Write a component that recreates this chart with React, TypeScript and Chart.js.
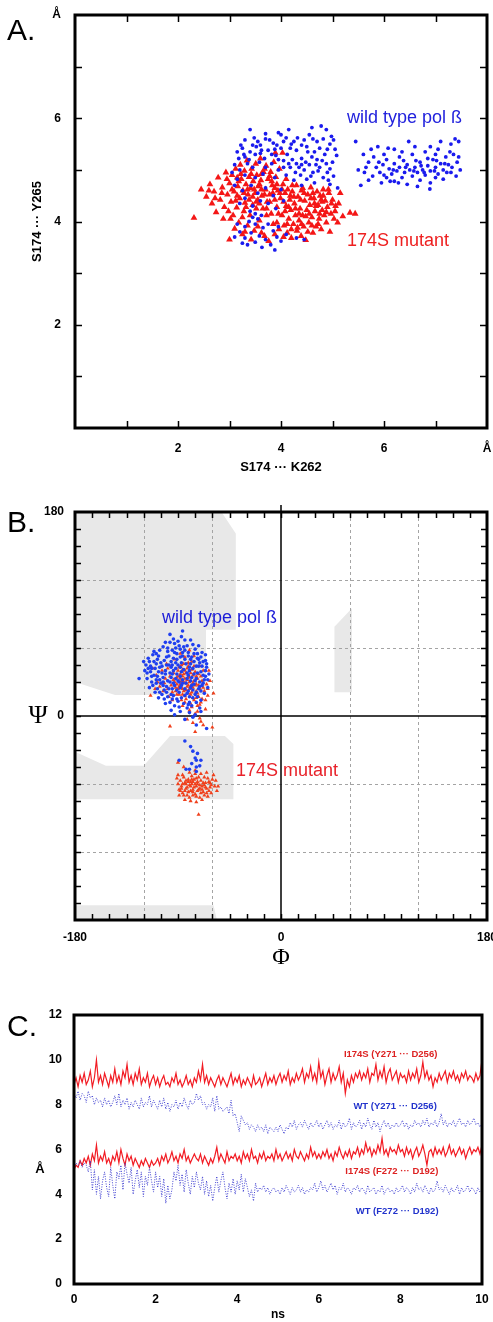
import React, { useEffect, useRef } from "react";
import { Chart, registerables } from "chart.js";
Chart.register(...registerables);

const SANS = '"Liberation Sans", Arial, Helvetica, sans-serif';
const SERIF = '"Liberation Serif", "DejaVu Serif", serif';

// ---------------- Panel A ----------------
const A_X_TICK_LABELS: Record<string, string> = { "2": "2", "4": "4", "6": "6", "8": "Å" };
const A_Y_TICK_LABELS: Record<string, string> = { "2": "2", "4": "4", "6": "6", "8": "Å" };
const A_X_TITLE = "S174 ··· K262";
const A_Y_TITLE = "S174 ··· Y265";
const A_WT_LABEL = "wild type pol ß";
const A_MUT_LABEL = "174S mutant";

// wild type: [x, y, x, y, ...]
const A_WT_XY = [
  3.4,5.78, 3.7,5.7, 3.95,5.72, 4.1,5.62, 3.55,5.55, 3.25,5.42, 3.6,5.48, 3.85,5.52, 4.2,5.5, 4.45,5.58,
  4.6,5.82, 4.78,5.85, 4.88,5.78, 4.5,5.45, 4.65,5.35, 4.95,5.5, 5.05,5.4, 4.3,5.38, 3.15,5.35, 3.4,5.35,
  3.75,5.38, 4.0,5.42, 3.3,5.25, 3.5,5.3, 3.68,5.22, 3.9,5.28, 4.12,5.3, 4.4,5.22, 4.7,5.2, 4.85,5.3, 5.0,5.15,
  3.1,5.1, 3.2,5.0, 3.35,5.12, 3.45,5.05, 3.58,5.15, 3.7,5.05, 3.82,5.12, 3.95,5.0, 4.05,5.18, 4.18,5.05,
  4.3,5.12, 4.45,5.0, 4.55,5.1, 4.62,4.95, 4.75,5.05, 4.9,4.95, 5.02,4.88, 4.82,4.85, 4.5,4.82, 4.38,4.9,
  4.25,4.8, 4.1,4.9, 3.88,4.85, 3.65,4.92, 3.5,4.85, 3.3,4.9, 3.15,4.82, 3.05,4.95, 4.65,4.75, 4.95,4.72,
  5.1,4.65, 4.4,4.7, 3.1,4.7, 3.25,4.6, 3.42,4.7, 3.55,4.55, 3.7,4.65, 3.85,4.5, 4.0,4.62, 3.3,4.45,
  3.6,4.4, 3.45,4.3, 3.75,4.35, 3.9,4.25, 3.2,4.35, 4.05,4.4, 3.4,4.2, 3.5,4.15, 3.45,4.08, 3.55,4.05,
  3.38,4.0, 3.62,4.12, 3.5,3.95, 3.3,3.9, 3.65,3.88, 3.75,3.95, 3.85,3.82, 3.2,3.8, 3.42,3.78, 3.58,3.72,
  3.7,3.65, 3.92,3.7, 4.0,3.62, 3.8,3.55, 3.63,3.5, 3.88,3.45, 3.5,3.6, 3.3,3.68, 3.1,3.7, 3.25,3.58,
  4.1,3.75, 4.3,3.68, 4.45,3.65, 3.95,3.9, 3.15,3.95, 3.35,3.55,
  3.22,5.48, 3.48,5.62, 3.62,5.38, 3.78,5.58, 3.92,5.48, 4.05,5.55, 4.18,5.42, 4.32,5.62, 4.55,5.68, 4.7,5.55,
  4.82,5.6, 4.98,5.65, 5.08,5.28, 4.6,5.25, 4.35,5.05, 4.22,5.2, 4.48,5.15, 4.72,4.98, 4.88,5.12, 3.18,5.22,
  3.38,5.2, 3.82,5.3, 4.05,5.05, 4.28,4.95, 4.58,4.88, 4.92,4.8,
  3.3,5.58, 3.52,5.45, 3.7,5.6, 3.88,5.4, 4.0,5.68, 4.15,5.78, 4.25,5.55, 4.4,5.48, 4.52,5.35, 4.62,5.6,
  4.75,5.42, 4.9,5.4, 5.02,5.58, 4.68,5.1, 4.8,5.18, 4.95,5.02, 4.4,5.1, 4.15,5.12, 3.95,5.2, 3.6,5.32,
  3.45,5.48, 3.28,5.3,
  5.45,5.55, 5.6,5.3, 5.5,5.0, 5.62,4.95, 5.7,5.15, 5.78,4.88, 5.85,5.05, 5.92,4.95, 5.98,5.1, 6.05,4.85,
  6.1,5.02, 6.15,4.92, 6.2,5.12, 6.25,4.98, 6.3,5.05, 6.35,4.85, 6.4,4.95, 6.45,5.1, 6.5,5.0, 6.55,4.88,
  6.6,5.05, 6.65,4.95, 6.7,5.15, 6.75,5.0, 6.8,4.9, 6.85,5.08, 6.9,4.98, 6.95,5.2, 7.0,5.05, 7.05,4.92,
  7.1,5.12, 7.15,5.0, 7.2,5.25, 7.25,5.1, 7.3,4.95, 7.35,5.3, 7.42,5.15, 7.48,5.0, 5.8,5.25, 6.0,5.3,
  6.3,5.25, 6.55,5.3, 6.8,5.35, 7.05,5.4, 7.3,5.5, 7.45,5.55, 7.1,5.55, 6.9,5.45, 6.6,5.45, 6.2,5.4,
  5.95,4.75, 6.2,4.78, 6.45,4.72, 6.7,4.8, 6.9,4.75, 7.15,4.82, 6.89,4.63, 6.0,4.9, 6.12,4.78, 6.58,4.98,
  6.72,5.08, 7.22,4.95, 7.4,4.88, 5.7,4.8, 6.38,5.18, 6.85,5.22, 7.0,5.3, 7.28,5.35, 6.28,4.75, 6.65,4.68,
  5.55,4.7, 5.88,5.45, 6.48,5.55, 7.38,5.6, 7.0,4.85,
  5.65,5.05, 5.9,5.15, 6.05,5.2, 6.18,5.0, 6.42,5.05, 6.62,5.18, 6.78,4.95, 7.02,5.18, 7.18,5.12, 7.32,5.05,
  6.35,5.35, 6.98,4.98, 7.45,5.25, 6.08,5.42, 5.75,5.4,
];

// 174S mutant: [x, y, ...]
const A_MUT_XY = [
  2.31,4.07, 2.45,4.62, 2.55,4.48, 2.62,4.72, 2.66,4.35, 2.7,4.58, 2.74,4.18, 2.78,4.85, 2.82,4.42, 2.86,4.66,
  2.88,4.05, 2.9,4.28, 2.93,4.95, 2.96,4.52,
  3.0,3.65, 3.0,4.74, 3.03,4.38, 3.05,4.9, 3.07,4.12, 3.09,4.58, 3.1,3.86, 3.12,5.02, 3.14,4.27, 3.16,4.68,
  3.18,3.98, 3.2,4.45, 3.21,5.1, 3.23,4.82, 3.25,3.75, 3.26,4.6, 3.28,4.2, 3.29,4.98, 3.3,4.36, 3.32,4.72,
  3.34,5.18, 3.35,3.92, 3.36,4.52, 3.38,4.86, 3.4,4.12, 3.41,4.65, 3.43,5.02, 3.45,4.32, 3.46,4.78, 3.48,3.82,
  3.5,4.55, 3.51,5.12, 3.53,4.9, 3.55,4.42, 3.56,4.68, 3.58,4.02, 3.6,5.22, 3.61,4.8, 3.63,4.5, 3.65,4.25, 3.66,4.96,
  3.68,3.72, 3.7,4.62, 3.71,5.08, 3.73,4.38, 3.75,4.82, 3.76,3.62, 3.78,4.52, 3.8,4.96, 3.81,4.15, 3.83,4.7,
  3.85,3.95, 3.86,5.15, 3.88,4.42, 3.89,5.33, 3.9,4.86, 3.92,4.28, 3.94,4.6, 3.96,3.85, 3.97,5.02, 3.99,4.45,
  4.02,4.12, 4.03,5.33, 4.04,4.72, 4.06,3.92, 4.08,4.55, 4.1,4.3, 4.12,3.78, 4.13,4.62, 4.15,4.05, 4.17,4.42,
  4.19,4.22, 4.2,3.68, 4.22,4.58, 4.24,3.95, 4.26,4.35, 4.28,4.12, 4.3,4.7, 4.31,3.82, 4.33,4.48, 4.35,4.02,
  4.37,4.25, 4.39,3.72, 4.4,4.6, 4.42,4.12, 4.44,3.9, 4.46,4.4, 4.48,3.64, 4.5,4.22, 4.52,4.52, 4.54,3.98,
  4.56,4.32, 4.58,4.66, 4.6,4.08, 4.62,3.78, 4.64,4.45, 4.66,4.2, 4.68,3.9, 4.7,4.58,
  4.72,4.32, 4.74,4.05, 4.76,4.5, 4.78,3.85, 4.8,4.22, 4.82,4.62, 4.84,4.12, 4.86,4.4, 4.88,3.98, 4.9,4.28,
  4.93,4.55, 4.95,3.8, 4.97,4.15, 5.0,4.42, 5.03,4.05, 5.06,4.3, 5.1,3.98, 5.15,4.55, 5.2,4.1, 5.34,4.17, 5.44,4.15,
  3.15,4.5, 3.35,4.62, 3.52,4.25, 3.62,4.62, 3.72,4.25, 3.84,4.55, 3.95,4.15, 4.05,4.38, 4.15,4.28, 4.25,4.48,
  4.35,4.15, 4.45,4.55, 4.55,4.15, 4.65,4.35, 4.75,4.15, 3.25,4.08, 3.45,4.48, 3.58,4.72, 3.78,4.88, 3.92,4.72,
  4.1,4.82, 4.2,3.85, 4.4,3.95, 4.6,3.92, 4.8,4.38, 3.42,3.65, 3.15,4.85, 2.98,4.2, 3.68,5.02, 3.55,3.9,
  3.05,4.62, 3.18,4.78, 3.28,4.55, 3.38,4.42, 3.48,4.62, 3.58,4.35, 3.68,4.52, 3.78,4.38, 3.88,4.65, 3.98,4.55,
  4.08,4.2, 4.18,4.5, 4.28,4.25, 4.38,4.42, 4.48,4.1, 4.58,4.45, 4.68,4.3, 4.78,4.42, 4.88,4.18, 4.98,4.35,
  3.22,4.92, 3.42,4.92, 3.62,4.92, 3.82,4.78, 4.02,4.62, 4.22,4.7, 4.42,4.65, 4.62,4.55, 4.82,4.5, 3.12,4.4,
  3.32,4.28, 3.52,4.38, 3.72,4.12, 3.92,3.98, 4.12,3.95, 4.32,3.88, 4.52,3.8, 4.72,3.95, 2.85,4.55, 2.95,4.82,
  3.02,4.05, 3.3,3.8, 3.62,3.78, 3.88,3.75, 4.05,3.7, 5.05,4.2, 5.12,4.35, 4.92,4.62, 2.72,4.45, 2.6,4.6,
];

// ---------------- Panel B ----------------
const B_X_TICK_LABELS: Record<string, string> = { "-180": "-180", "0": "0", "180": "180" };
const B_Y_TICK_LABELS: Record<string, string> = { "180": "180", "0": "0" };
const B_X_TITLE = "Φ";
const B_Y_TITLE = "Ψ";
const B_GRID_VALUES = [-120, -60, 60, 120];
// allowed Ramachandran regions, [phi, psi, ...]
const B_REGIONS = [
  [-180,180, -52,180, -39.5,161, -39.5,76, -65.5,76, -65.5,18.5, -145,18.5, -180,30],
  [-180,-31.5, -153,-44, -120,-44, -97,-17.7, -49,-17.7, -41.6,-24.7, -41.6,-73.5, -180,-73.5],
  [-180,-180, -180,-167, -59,-167, -56,-180],
  [46.7,20.9, 46.7,78.8, 62,95, 62,20.9],
];
// wild type (phi, psi)
const B_WT = [
  -124,33, -97,72, -86,75, -79,67, -93,64, -103,61, -111,57, -85,61, -75,59, -69,56,
  -116,51, -107,53, -99,57, -91,55, -81,53, -73,51, -66,49, -118,45, -109,46, -102,49,
  -96,48, -87,47, -79,46, -71,47, -65,43, -114,39, -106,43, -101,40, -92,42, -85,41,
  -77,42, -70,39, -63,37, -117,33, -108,35, -103,34, -95,37, -88,35, -81,36, -74,33,
  -67,32, -112,27, -105,29, -97,30, -90,31, -83,29, -76,28, -69,27, -64,25, -110,21,
  -102,23, -95,24, -88,25, -81,22, -74,21, -67,20, -107,16, -99,17, -91,15, -84,18,
  -77,16, -70,14, -101,11, -93,9, -85,11, -78,9, -71,7, -96,5, -88,4, -80,3,
  -75,1, -77,-1, -65,-11, -74,-8, -113,42, -108,50, -100,45, -94,51, -88,52, -80,43,
  -72,50, -68,36, -111,36, -104,38, -96,43, -90,45, -82,38, -76,37, -69,44, -113,30,
  -106,32, -99,31, -92,33, -86,32, -79,31, -71,30, -108,24, -100,26, -93,27, -87,27,
  -79,25, -72,24, -104,19, -96,19, -89,21, -82,20, -75,19, -95,58, -88,59, -81,56,
  -106,58, -112,54, -84,67, -94,68, -101,65, -77,63, -72,62, -66,54, -119,40, -120,48,
  -90,13, -82,7, -70,4, -84,-3, -93,1, -115,48, -98,53, -84,50, -73,55, -117,38,
  -109,29, -91,37, -78,34, -66,40, -104,44, -97,38, -110,42, -89,62, -76,48, -95,15,
  -64,32, -86,56, -68,48, -103,27, -80,12, -115,25, -87,70, -92,47, -100,21, -74,44,
  -105,47, -98,45, -91,50, -83,46, -76,55, -70,52, -113,35, -101,37, -94,40, -87,39,
  -80,40, -73,38, -66,35, -109,32, -96,34, -89,30, -82,33, -75,31, -68,29, -103,30,
  -94,29, -86,29, -78,27, -71,26, -106,21, -98,24, -91,23, -84,24, -77,23, -70,22,
  -102,15, -94,18, -87,16, -80,17, -73,17, -97,12, -89,8, -81,10, -74,12, -99,60,
  -92,60, -84,58, -78,52, -109,55, -114,44, -107,39, -100,52, -93,56, -86,53, -79,50,
  -72,44, -65,46, -116,42, -111,48, -97,65, -90,66, -82,62, -88,43, -95,45,
  -84,-22, -77,-31, -73,-33, -75,-37, -74,-39, -70,-39, -78,-42, -83,-47, -80,-47, -74,-49,
  -74,-45, -89,-39, -79,-27, -71,-44,
];
// 174S mutant (phi, psi)
const B_MUT = [
  -112,42, -108,30, -103,22, -100,46, -97,35, -95,14, -93,50, -91,28, -90,40, -89,19,
  -88,33, -87,45, -86,24, -85,37, -84,12, -83,29, -82,42, -81,20, -80,34, -79,26,
  -78,48, -77,16, -76,31, -75,39, -74,22, -73,9, -72,27, -71,44, -70,35, -69,15,
  -68,25, -66,6, -64,18, -62,31, -92,22, -94,38, -96,27, -98,17, -101,33, -104,40,
  -106,26, -88,55, -84,52, -80,58, -76,53, -86,9, -80,5, -75,2, -71,-2, -77,-6,
  -82,-3, -97,-9, -60,-10, -75,-14, -68,-8, -87,14, -83,23, -79,38, -85,30, -81,27,
  -77,36, -89,26, -91,34, -86,41, -82,32, -78,21, -74,28, -72,17, -84,18, -88,37,
  -93,30, -79,11, -85,46, -90,24, -76,44, -73,33, -70,12, -67,22, -81,47, -99,42,
  -95,21, -102,29, -63,40, -59,20, -65,28, -109,36, -110,24, -114,18,
  -86,35, -83,38, -80,30, -77,25, -74,35, -71,24, -88,28, -85,22, -82,26, -79,19,
  -76,14, -73,20, -90,35, -87,31, -84,40, -81,44, -78,41, -75,27, -72,37, -69,31,
  -92,25, -89,43, -86,19, -83,15, -80,24, -77,29, -74,16, -71,10, -94,32, -91,19,
  -78,8, -73,4, -70,-5, -66,14, -64,24, -68,40, -96,44, -99,24, -84,33, -81,35,
  -91,-55, -90,-60, -89,-65, -88,-57, -87,-62, -86,-68, -85,-54, -84,-59, -83,-64, -82,-70,
  -81,-56, -80,-61, -79,-66, -78,-53, -77,-58, -76,-63, -75,-69, -74,-55, -73,-60, -72,-65,
  -71,-72, -70,-57, -69,-62, -68,-67, -67,-54, -66,-59, -65,-64, -64,-71, -63,-58, -62,-63,
  -61,-68, -60,-56, -58,-62, -56,-66, -59,-52, -72,-87, -84,-74, -79,-75, -74,-76, -69,-74,
  -89,-70, -86,-52, -80,-50, -75,-51, -70,-51, -65,-50, -82,-63, -78,-60, -73,-66, -77,-70,
  -81,-67, -76,-56, -71,-61, -79,-58, -84,-66, -74,-62, -70,-68, -66,-63, -63,-66, -86,-60,
  -83,-57, -68,-59, -88,-66, -72,-54, -61,-61, -57,-57, -77,-65, -80,-72, -67,-70, -90,-52,
  -55,-62, -64,-55, -75,-48, -85,-45, -90,-41,
  -83,-60, -79,-62, -75,-60, -71,-64, -67,-61, -81,-58, -77,-67, -73,-58, -69,-65, -87,-64,
  -85,-70, -65,-68, -62,-59, -78,-56, -74,-71,
];
const B_WT_LABEL = "wild type pol ß";
const B_MUT_LABEL = "174S mutant";

// ---------------- Panel C ----------------
const C_STEP_NS = 0.05;
const C_X_TITLE = "ns";
const C_Y_TITLE = "Å";
const C_LABEL_MUT_Y271 = "I174S (Y271 ··· D256)";
const C_LABEL_WT_Y271 = "WT (Y271 ··· D256)";
const C_LABEL_MUT_F272 = "I174S (F272 ··· D192)";
const C_LABEL_WT_F272 = "WT (F272 ··· D192)";

const C_MUT_Y271 = [
  8.9,9.2,8.8,9.3,9.0,9.4,8.9,9.1,9.5,8.8, 9.2,10.0,9.0,9.3,8.9,9.4,9.1,8.8,9.3,9.0,
  9.6,9.0,9.3,8.9,9.5,9.2,9.8,9.0,9.3,8.9, 9.4,9.1,9.6,8.9,9.2,9.0,9.4,8.8,9.1,9.3,
  8.9,9.2,8.8,9.1,9.3,8.9,9.0,8.8,9.2,9.0, 9.4,8.9,9.1,8.8,9.0,9.3,8.9,9.1,8.8,9.2,
  9.0,9.5,9.1,9.8,9.0,9.3,8.9,9.2,9.0,8.8, 9.1,9.3,8.9,9.2,9.0,8.8,9.1,9.4,8.9,9.2,
  9.0,9.3,8.8,9.1,8.9,9.2,9.0,8.8,9.3,8.9, 9.0,9.2,8.8,9.1,9.4,8.9,9.2,9.0,9.3,8.9,
  9.2,9.4,9.0,9.3,9.1,9.5,8.9,9.2,9.0,9.4, 9.1,9.3,9.6,9.0,9.4,9.2,9.7,9.1,9.4,9.0,
  9.9,9.2,9.5,8.9,9.3,9.6,9.0,9.4,9.1,9.3, 9.7,9.0,9.4,8.5,9.1,8.8,9.3,9.0,9.4,9.2,
  9.5,9.1,9.4,9.2,9.6,9.0,9.4,9.3,9.8,9.1, 9.5,9.2,9.7,9.0,9.4,9.6,9.1,9.3,9.5,9.0,
  9.4,9.2,9.3,9.0,9.5,9.1,9.4,9.2,9.6,9.0, 9.3,9.9,9.2,9.5,9.1,9.3,8.8,9.2,9.0,9.4,
  9.1,9.3,9.5,9.0,9.4,9.2,9.5,9.1,9.3,9.0, 9.4,9.2,9.5,9.1,9.3,9.2,9.0,9.4,9.1,9.3,
  10.0,
];
const C_WT_Y271 = [
  8.5,8.3,8.6,8.2,8.5,8.4,8.1,8.6,8.3,8.4, 8.0,8.3,8.1,8.2,7.9,8.3,8.0,8.2,7.9,8.1,
  8.4,8.0,8.5,7.9,8.2,8.0,8.3,7.8,8.1,7.9, 8.2,8.0,7.8,8.3,7.9,8.1,8.0,8.4,7.9,8.2,
  8.0,7.8,8.2,7.9,8.3,7.8,8.1,7.7,8.0,7.9, 8.2,7.8,8.1,7.9,8.3,8.0,7.8,8.2,8.0,8.1,
  8.5,8.2,8.4,8.0,8.1,7.8,8.0,7.9,8.3,7.7, 8.4,7.8,7.9,7.7,7.8,7.9,7.6,8.2,7.5,7.6,
  7.2,6.8,7.5,7.3,7.1,7.2,6.9,7.1,7.0,6.8, 7.1,6.9,7.0,6.8,7.1,6.7,7.0,6.9,6.8,7.0,
  6.8,7.1,6.9,6.7,7.0,6.9,7.2,7.0,7.3,6.9, 7.1,7.2,7.0,7.3,7.1,6.9,7.2,7.0,7.1,7.3,
  7.0,7.2,6.9,7.1,7.3,7.0,7.2,6.9,7.1,7.0, 7.3,6.9,7.2,7.0,7.1,7.4,6.9,7.2,7.0,7.1,
  7.3,6.9,7.2,7.0,7.4,7.1,6.9,7.3,7.0,7.2, 6.8,7.1,7.3,7.0,7.2,6.9,7.1,7.0,7.2,7.0,
  7.1,7.3,7.0,7.2,6.9,7.1,7.0,7.3,7.1,7.2, 7.0,7.3,7.1,7.4,7.0,7.2,7.1,7.3,7.0,7.2,
  7.6,7.1,7.3,7.0,7.2,7.1,7.3,7.0,7.2,7.4, 7.1,7.2,7.0,7.3,7.1,7.2,7.4,7.1,7.2,7.0,
  7.2,
];
const C_MUT_F272 = [
  5.1,5.3,5.2,5.5,5.3,5.6,5.4,5.7,5.3,5.8, 5.5,6.2,5.4,5.7,5.5,5.9,5.4,5.6,5.3,5.7,
  5.5,5.9,5.4,6.0,5.6,5.3,5.8,5.5,5.7,5.3, 5.6,5.4,5.2,5.5,5.3,5.6,5.4,5.2,5.5,5.3,
  5.4,5.6,5.3,5.7,5.5,5.8,5.4,5.6,5.9,5.5, 5.7,5.4,5.8,5.6,6.0,5.5,5.7,5.4,5.6,5.8,
  5.6,5.5,5.8,5.4,5.7,5.5,5.3,5.6,5.4,5.7, 6.1,5.5,5.8,5.6,5.4,5.9,5.5,5.7,5.6,5.8,
  5.5,5.7,5.4,5.9,5.6,5.8,5.5,6.0,5.6,5.7, 5.4,5.8,5.6,5.9,5.5,5.7,5.6,5.8,5.5,6.0,
  5.6,5.8,5.5,5.7,5.9,5.6,5.8,5.5,6.0,5.7, 5.6,5.9,5.7,5.5,5.8,5.6,6.1,5.7,5.9,5.6,
  5.8,5.6,5.9,5.7,6.0,5.6,5.8,5.5,5.9,5.7, 6.1,5.8,5.6,5.9,5.7,6.0,5.6,5.9,5.8,6.1,
  5.7,6.0,5.8,6.3,5.9,6.1,5.7,6.0,5.8,6.2, 5.9,6.5,5.8,6.0,5.7,6.1,5.9,6.0,5.8,6.2,
  5.9,6.0,5.7,6.1,5.8,6.0,5.6,5.9,6.1,5.7, 5.9,6.2,5.8,5.3,5.9,6.0,5.7,6.1,5.8,6.0,
  5.8,6.1,5.7,5.9,6.2,5.8,6.0,5.7,5.9,6.1, 5.8,6.0,5.6,5.9,6.1,5.8,6.0,5.9,6.1,5.8,
  6.2,
];
const C_WT_F272 = [
  5.2,5.4,5.3,5.5,5.2,5.4,5.3,5.0,5.5,4.2, 5.1,4.0,4.8,3.8,4.6,5.0,4.3,3.9,5.2,4.4,
  3.8,5.0,4.7,5.3,4.2,5.4,4.9,4.5,5.2,4.0, 4.6,5.1,4.3,5.0,3.9,4.8,4.4,5.2,4.6,4.1,
  5.0,4.3,4.8,3.9,4.7,3.6,4.4,3.8,4.2,5.0, 4.6,5.3,4.4,4.9,4.1,5.1,4.5,4.0,4.8,4.3,
  5.0,4.5,4.2,4.8,4.0,4.6,3.9,4.4,3.7,4.3, 4.8,4.1,4.6,5.0,4.3,3.8,4.5,4.1,4.7,4.0,
  4.6,4.2,4.9,4.1,4.7,4.3,3.9,4.2,3.7,4.5, 4.1,4.3,4.2,4.4,4.1,4.3,4.0,4.2,4.3,4.1,
  4.2,4.0,4.3,4.1,4.4,4.2,4.0,4.3,4.1,4.2, 4.4,4.1,4.3,4.0,4.2,4.1,4.3,4.2,4.5,4.1,
  4.3,4.6,4.2,4.4,4.1,4.3,4.5,4.2,4.4,4.0, 4.3,4.2,4.5,4.1,4.3,4.2,4.0,4.3,4.2,4.4,
  4.1,4.3,4.2,4.0,4.4,4.1,4.2,4.3,4.0,4.2, 4.1,4.4,4.0,4.2,4.3,4.1,4.2,4.0,4.3,4.1,
  4.2,4.4,4.1,4.3,4.2,4.0,4.3,4.1,4.5,4.2, 4.3,4.1,4.4,4.2,4.0,4.3,4.1,4.2,4.6,4.2,
  4.3,4.1,4.4,4.2,4.0,4.3,4.1,4.2,4.4,4.0, 4.3,4.1,4.2,4.4,4.1,4.3,4.2,4.0,4.3,4.1,
  4.2,
];

// ---------------- helpers ----------------
const toPts = (a: number[]) => {
  const r: { x: number; y: number }[] = [];
  for (let i = 0; i + 1 < a.length; i += 2) r.push({ x: a[i], y: a[i + 1] });
  return r;
};
const series = (vals: number[]) => vals.map((v, i) => ({ x: +(i * C_STEP_NS).toFixed(2), y: v }));

function drawFrame(ctx: CanvasRenderingContext2D, a: any, xs: any, ys: any, tickLen: number, lw: number) {
  ctx.save();
  ctx.strokeStyle = "#000";
  if (tickLen > 0) {
    ctx.lineWidth = 1.5;
    ctx.beginPath();
    for (const t of xs.ticks) {
      if (t.value <= xs.min || t.value >= xs.max) continue;
      const px = Math.round(xs.getPixelForValue(t.value)) + 0.5;
      ctx.moveTo(px, a.bottom);
      ctx.lineTo(px, a.bottom - tickLen);
      ctx.moveTo(px, a.top);
      ctx.lineTo(px, a.top + tickLen);
    }
    for (const t of ys.ticks) {
      if (t.value <= ys.min || t.value >= ys.max) continue;
      const py = Math.round(ys.getPixelForValue(t.value)) + 0.5;
      ctx.moveTo(a.left, py);
      ctx.lineTo(a.left + tickLen, py);
      ctx.moveTo(a.right, py);
      ctx.lineTo(a.right - tickLen, py);
    }
    ctx.stroke();
  }
  ctx.lineWidth = lw;
  ctx.strokeRect(a.left, a.top, a.right - a.left, a.bottom - a.top);
  ctx.restore();
}

const tickFont = { family: SANS, size: 12, weight: "bold" as const };

function axisBase(min: number, max: number, step: number, labels: Record<string, string> | null, padding: number) {
  return {
    type: "linear" as const,
    min,
    max,
    grid: { display: false, drawTicks: false },
    border: { display: false },
    ticks: {
      stepSize: step,
      autoSkip: false,
      maxRotation: 0,
      padding,
      color: "#000",
      font: tickFont,
      callback: (v: any) => (labels ? labels[String(v)] ?? "" : String(v)),
    },
  };
}

export default function App() {
  const aRef = useRef<HTMLCanvasElement>(null);
  const bRef = useRef<HTMLCanvasElement>(null);
  const cRef = useRef<HTMLCanvasElement>(null);

  useEffect(() => {
    const charts: Chart[] = [];

    // ---------- Panel A ----------
    const plugA = {
      id: "decoA",
      afterDraw(chart: any) {
        const { ctx, chartArea: a, scales } = chart;
        const { x, y } = scales;
        drawFrame(ctx, a, x, y, 7, 3);
        ctx.save();
        ctx.font = `18px ${SANS}`;
        ctx.textBaseline = "middle";
        ctx.textAlign = "left";
        ctx.fillStyle = "#2222dd";
        ctx.fillText(A_WT_LABEL, x.getPixelForValue(5.28), y.getPixelForValue(6.0));
        ctx.fillStyle = "#ee2020";
        ctx.fillText(A_MUT_LABEL, x.getPixelForValue(5.28), y.getPixelForValue(3.62));
        ctx.fillStyle = "#000";
        ctx.textBaseline = "alphabetic";
        ctx.font = `30px ${SANS}`;
        ctx.fillText("A.", 7, 40);
        ctx.restore();
      },
    };
    const xA: any = axisBase(0, 8, 1, A_X_TICK_LABELS, 13);
    xA.afterFit = (s: any) => { s.height = 57; s.paddingLeft = 0; s.paddingRight = 0; };
    xA.title = { display: true, text: A_X_TITLE, color: "#000", font: { family: SANS, size: 13, weight: "bold" }, padding: { top: 0, bottom: 10 } };
    const yA: any = axisBase(0, 8, 1, A_Y_TICK_LABELS, 14);
    yA.afterFit = (s: any) => { s.width = 75; s.paddingTop = 0; s.paddingBottom = 0; };
    yA.title = { display: true, text: A_Y_TITLE, color: "#000", font: { family: SANS, size: 13, weight: "bold" }, padding: { top: 30, bottom: 0 } };

    charts.push(new Chart(aRef.current!, {
      type: "scatter",
      data: {
        datasets: [
          { data: toPts(A_WT_XY), pointStyle: "circle", pointRadius: 1.9, backgroundColor: "#1a1aee", borderWidth: 0 },
          { data: toPts(A_MUT_XY), pointStyle: "triangle", pointRadius: 3.9, backgroundColor: "#f41616", borderWidth: 0 },
        ],
      },
      options: {
        animation: false,
        responsive: false,
        events: [],
        layout: { padding: { left: 0, right: 6, top: 15, bottom: 0 } },
        plugins: { legend: { display: false }, tooltip: { enabled: false } },
        scales: { x: xA, y: yA },
      },
      plugins: [plugA],
    } as any));

    // ---------- Panel B ----------
    const plugB = {
      id: "decoB",
      beforeDatasetsDraw(chart: any) {
        const { ctx, chartArea: a, scales } = chart;
        const { x, y } = scales;
        ctx.save();
        ctx.beginPath();
        ctx.rect(a.left, a.top, a.right - a.left, a.bottom - a.top);
        ctx.clip();
        ctx.fillStyle = "#e8e8e8";
        for (const poly of B_REGIONS) {
          ctx.beginPath();
          for (let i = 0; i + 1 < poly.length; i += 2) {
            const px = x.getPixelForValue(poly[i]);
            const py = y.getPixelForValue(poly[i + 1]);
            if (i === 0) ctx.moveTo(px, py); else ctx.lineTo(px, py);
          }
          ctx.closePath();
          ctx.fill();
        }
        ctx.restore();
        ctx.save();
        ctx.strokeStyle = "#a4a4a4";
        ctx.lineWidth = 1;
        ctx.setLineDash([3, 3]);
        ctx.beginPath();
        for (const v of B_GRID_VALUES) {
          const px = Math.round(x.getPixelForValue(v)) + 0.5;
          ctx.moveTo(px, a.top);
          ctx.lineTo(px, a.bottom);
          const py = Math.round(y.getPixelForValue(v)) + 0.5;
          ctx.moveTo(a.left, py);
          ctx.lineTo(a.right, py);
        }
        ctx.stroke();
        ctx.setLineDash([]);
        ctx.strokeStyle = "#000";
        ctx.lineWidth = 1.5;
        ctx.beginPath();
        const x0 = x.getPixelForValue(0);
        const y0 = y.getPixelForValue(0);
        ctx.moveTo(x0, a.top - 7);
        ctx.lineTo(x0, a.bottom);
        ctx.moveTo(a.left, y0);
        ctx.lineTo(a.right, y0);
        ctx.stroke();
        ctx.restore();
      },
      afterDraw(chart: any) {
        const { ctx, chartArea: a, scales } = chart;
        const { x, y } = scales;
        drawFrame(ctx, a, x, y, 6, 3);
        ctx.save();
        ctx.font = `18px ${SANS}`;
        ctx.textBaseline = "middle";
        ctx.textAlign = "left";
        ctx.fillStyle = "#1c1cd8";
        ctx.fillText(B_WT_LABEL, x.getPixelForValue(-104), y.getPixelForValue(86.5));
        ctx.fillStyle = "#e8222a";
        ctx.fillText(B_MUT_LABEL, x.getPixelForValue(-39.3), y.getPixelForValue(-48.5));
        ctx.fillStyle = "#000";
        ctx.textAlign = "center";
        ctx.font = `26px ${SERIF}`;
        ctx.fillText(B_Y_TITLE, 38, y.getPixelForValue(0));
        ctx.textAlign = "left";
        ctx.textBaseline = "alphabetic";
        ctx.font = `30px ${SANS}`;
        ctx.fillText("B.", 7, 42);
        ctx.restore();
      },
    };
    const xB: any = axisBase(-180, 180, 15, B_X_TICK_LABELS, 10);
    xB.afterFit = (s: any) => { s.height = 60; s.paddingLeft = 0; s.paddingRight = 0; };
    xB.title = { display: true, text: B_X_TITLE, color: "#000", font: { family: SERIF, size: 24, lineHeight: 1 }, padding: { top: 0, bottom: 10 } };
    const yB: any = axisBase(-180, 180, 15, B_Y_TICK_LABELS, 11);
    yB.afterFit = (s: any) => { s.width = 75; s.paddingTop = 0; s.paddingBottom = 0; };

    charts.push(new Chart(bRef.current!, {
      type: "scatter",
      data: {
        datasets: [
          { data: toPts(B_WT), pointStyle: "circle", pointRadius: 1.8, backgroundColor: "#1f3ff0", borderWidth: 0 },
          { data: toPts(B_MUT), pointStyle: "triangle", pointRadius: 2.4, backgroundColor: "#f0401c", borderWidth: 0 },
        ],
      },
      options: {
        animation: false,
        responsive: false,
        events: [],
        layout: { padding: { left: 0, right: 18, top: 22, bottom: 0 } },
        plugins: { legend: { display: false }, tooltip: { enabled: false } },
        scales: { x: xB, y: yB },
      },
      plugins: [plugB],
    } as any));

    // ---------- Panel C ----------
    const plugC = {
      id: "decoC",
      afterDraw(chart: any) {
        const { ctx, chartArea: a, scales } = chart;
        const { x, y } = scales;
        drawFrame(ctx, a, x, y, 0, 3);
        ctx.save();
        ctx.font = `bold 9.5px ${SANS}`;
        ctx.textBaseline = "middle";
        ctx.textAlign = "center";
        ctx.fillStyle = "#dd2222";
        ctx.fillText(C_LABEL_MUT_Y271, x.getPixelForValue(7.76), y.getPixelForValue(10.26));
        ctx.fillText(C_LABEL_MUT_F272, x.getPixelForValue(7.79), y.getPixelForValue(5.04));
        ctx.fillStyle = "#2233cc";
        ctx.fillText(C_LABEL_WT_Y271, x.getPixelForValue(7.87), y.getPixelForValue(7.94));
        ctx.fillText(C_LABEL_WT_F272, x.getPixelForValue(7.92), y.getPixelForValue(3.26));
        ctx.fillStyle = "#000";
        ctx.font = `bold 13px ${SANS}`;
        ctx.fillText(C_Y_TITLE, 40, y.getPixelForValue(5.1));
        ctx.textAlign = "left";
        ctx.textBaseline = "alphabetic";
        ctx.font = `30px ${SANS}`;
        ctx.fillText("C.", 7, 51);
        ctx.restore();
      },
    };
    const xC: any = axisBase(0, 10, 2, null, 8);
    xC.afterFit = (s: any) => { s.height = 38; s.paddingLeft = 0; s.paddingRight = 0; };
    xC.title = { display: true, text: C_X_TITLE, color: "#000", font: { family: SANS, size: 12, weight: "bold" }, padding: { top: 0, bottom: 0 } };
    const yC: any = axisBase(0, 12, 2, null, 12);
    yC.afterFit = (s: any) => { s.width = 74; s.paddingTop = 0; s.paddingBottom = 0; };

    charts.push(new Chart(cRef.current!, {
      type: "line",
      data: {
        datasets: [
          { data: series(C_WT_Y271), borderColor: "rgba(48,48,205,0.9)", borderWidth: 1, borderDash: [1, 1.5], pointRadius: 0, tension: 0 },
          { data: series(C_WT_F272), borderColor: "rgba(48,48,205,0.9)", borderWidth: 1, borderDash: [1, 1.5], pointRadius: 0, tension: 0 },
          { data: series(C_MUT_Y271), borderColor: "#f21c24", borderWidth: 1.2, pointRadius: 0, tension: 0 },
          { data: series(C_MUT_F272), borderColor: "#f21c24", borderWidth: 1.2, pointRadius: 0, tension: 0 },
        ],
      },
      options: {
        animation: false,
        responsive: false,
        events: [],
        layout: { padding: { left: 0, right: 11, top: 30, bottom: 0 } },
        plugins: { legend: { display: false }, tooltip: { enabled: false } },
        scales: { x: xC, y: yC },
      },
      plugins: [plugC],
    } as any));

    return () => charts.forEach((c) => c.destroy());
  }, []);

  return (
    <div style={{ position: "absolute", left: 0, top: 0, width: 493, height: 1322, overflow: "hidden", background: "#fff" }}>
      <canvas ref={aRef} width={493} height={485} style={{ position: "absolute", left: 0, top: 0, width: 493, height: 485 }} />
      <canvas ref={bRef} width={505} height={490} style={{ position: "absolute", left: 0, top: 490, width: 505, height: 490 }} />
      <canvas ref={cRef} width={493} height={337} style={{ position: "absolute", left: 0, top: 985, width: 493, height: 337 }} />
    </div>
  );
}
